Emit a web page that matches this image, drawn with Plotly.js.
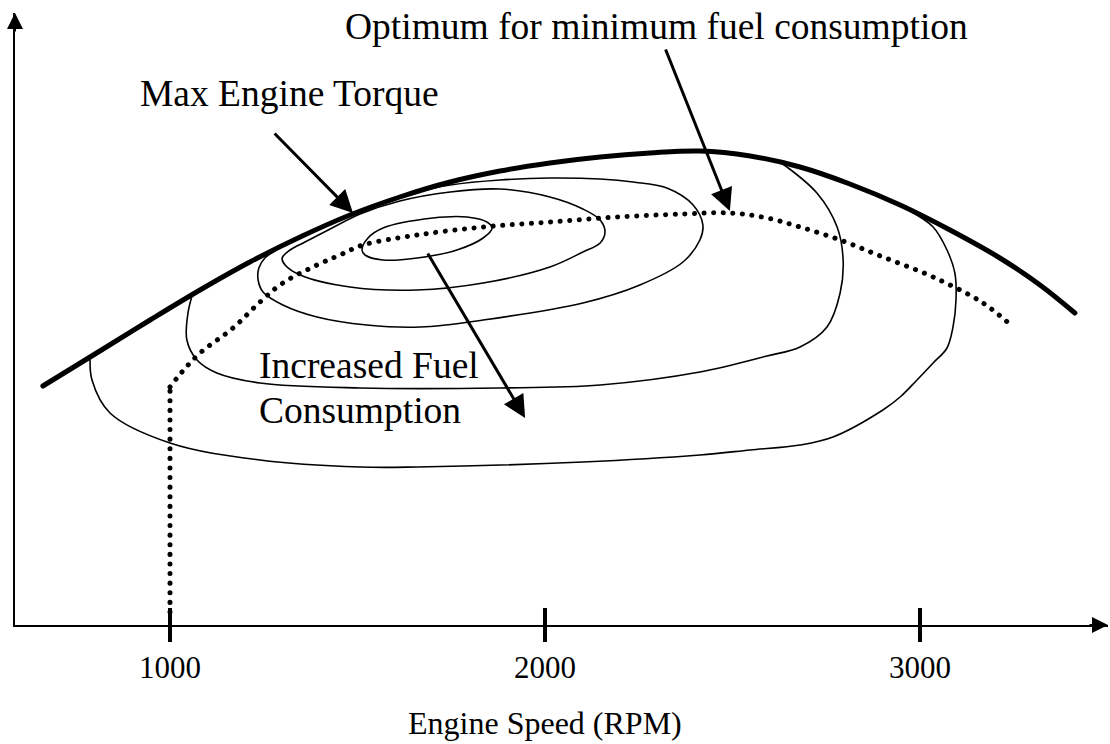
<!DOCTYPE html>
<html>
<head>
<meta charset="utf-8">
<script src="https://cdn.plot.ly/plotly-3.0.1.min.js"></script>
<style>
  html, body { margin: 0; padding: 0; background: #fff; }
  #chart { width: 1110px; height: 744px; }
  .scatterlayer .js-line { stroke-linecap: round; stroke-linejoin: round; }
</style>
</head>
<body>
<div id="chart"></div>
<script>
// ---- Data (engine speed in RPM, torque in arbitrary units) ----
const xRange = [586.67, 3501.33];
const yRange = [0, 612];
const tickVals = [1000, 2000, 3000];
const tickText = ['1000', '2000', '3000'];
const xTitle = 'Engine Speed (RPM)';

// Max engine torque curve
const maxTorqueRpm = [661, 813, 947, 1080, 1213, 1347, 1480, 1613, 1747, 1880, 2013, 2147, 2280, 2413, 2547, 2680, 2813, 2947, 3080, 3213, 3320, 3413];
const maxTorqueVal = [239, 274, 305, 335, 363, 388, 410, 428, 443, 454, 462, 468, 472, 474, 469, 458, 441, 420, 395, 367, 340, 312];

// Optimum line for minimum fuel consumption (vertical part + curve)
const optVertRpm = [1000, 1000];
const optVertVal = [13, 238];
const optCurveRpm = [1000, 1032, 1080, 1168, 1240, 1301, 1392, 1453, 1515, 1659, 1835, 2013, 2192, 2368, 2493, 2592, 2680, 2787, 2901, 3035, 3168, 3248];
const optCurveVal = [238, 253, 272, 297, 323, 342, 360, 370, 380, 390, 398, 403, 408, 411, 412, 407, 398, 385, 368, 348, 322, 298];

// Fuel consumption contours (innermost to outermost)
const c1Rpm = [1512, 1528, 1568, 1701, 1792, 1845, 1859, 1835, 1765, 1659, 1568, 1520, 1512];
const c1Val = [375, 387, 397, 407, 408, 403, 397, 387, 375, 367, 365, 370, 375];
const c2Rpm = [1299, 1320, 1360, 1427, 1507, 1613, 1747, 1880, 2013, 2101, 2147, 2160, 2147, 2101, 2013, 1835, 1659, 1480, 1347, 1307, 1299];
const c2Val = [367, 375, 383, 396, 411, 424, 433, 436, 428, 416, 405, 393, 382, 373, 358, 342, 335, 338, 350, 360, 367];
const c3Rpm = [1280, 1253, 1237, 1235, 1248, 1301, 1392, 1525, 1667, 1835, 2101, 2253, 2368, 2413, 2421, 2395, 2325, 2235, 2147, 2013, 1880, 1747, 1693];
const c3Val = [374, 367, 357, 345, 333, 320, 308, 300, 298, 305, 322, 340, 363, 385, 400, 420, 437, 443, 446, 447, 445, 440, 436];
const c4Rpm = [1061, 1048, 1045, 1072, 1125, 1240, 1507, 1880, 2147, 2413, 2592, 2680, 2752, 2787, 2795, 2779, 2725, 2627];
const c4Val = [332, 312, 285, 265, 252, 242, 237, 237, 240, 253, 269, 278, 298, 332, 365, 398, 432, 463];
const c5Rpm = [787, 792, 840, 1000, 1240, 1507, 1659, 2101, 2413, 2547, 2680, 2768, 2901, 2947, 2992, 3035, 3072, 3088, 3096, 3093, 3072, 3035, 2973];
const c5Val = [268, 245, 212, 182, 165, 158, 158, 163, 170, 175, 180, 188, 215, 228, 245, 262, 277, 298, 325, 352, 375, 398, 414];

// Label texts and their anchor points [rpm, torque]
const labelTexts = ['Optimum for minimum fuel consumption', 'Max Engine Torque', 'Increased Fuel', 'Consumption'];
const labelRpm = [1461, 915, 1232, 1232];
const labelVal = [599, 532, 260, 215];

// Pointer arrows: tip and tail [rpm, torque]
const arrowTipRpm = [1488, 2493, 1947];
const arrowTipVal = [412, 414, 207];
const arrowTailRpm = [1275, 2320, 1685];
const arrowTailVal = [493, 577, 373];

// ---- Build ----
const FONT = 'Liberation Serif, Times New Roman, serif';
const contour = (x, y) => ({ x, y, type: 'scatter', mode: 'lines', hoverinfo: 'skip',
  line: { color: '#000', width: 1.6, shape: 'spline', smoothing: 1 } });

const traces = [
  contour(c1Rpm, c1Val), contour(c2Rpm, c2Val), contour(c3Rpm, c3Val),
  contour(c4Rpm, c4Val), contour(c5Rpm, c5Val),
  { x: optVertRpm, y: optVertVal, type: 'scatter', mode: 'lines', hoverinfo: 'skip',
    line: { color: '#000', width: 5, dash: '0.1px,9.5px' } },
  { x: optCurveRpm, y: optCurveVal, type: 'scatter', mode: 'lines', hoverinfo: 'skip',
    line: { color: '#000', width: 5, dash: '0.1px,9.5px', shape: 'spline', smoothing: 1 } },
  { x: maxTorqueRpm, y: maxTorqueVal, type: 'scatter', mode: 'lines', hoverinfo: 'skip',
    line: { color: '#000', width: 5, shape: 'spline', smoothing: 1 } }
];

const annotations = [];
labelTexts.forEach((t, i) => annotations.push({
  x: labelRpm[i], y: labelVal[i], xref: 'x', yref: 'y', text: t, showarrow: false,
  xanchor: 'left', yanchor: 'middle', font: { family: FONT, size: 37.5, color: '#000' }
}));
arrowTipRpm.forEach((x, i) => annotations.push({
  x: x, y: arrowTipVal[i], xref: 'x', yref: 'y', axref: 'x', ayref: 'y',
  ax: arrowTailRpm[i], ay: arrowTailVal[i], text: '', showarrow: true,
  arrowhead: 2, arrowsize: 1.5, arrowwidth: 3, arrowcolor: '#000', standoff: 0
}));
// axis arrow heads
annotations.push({ x: xRange[1], y: yRange[0], xref: 'x', yref: 'y', ax: -20, ay: 0,
  text: '', showarrow: true, arrowhead: 2, arrowsize: 1.6, arrowwidth: 2, arrowcolor: '#000', standoff: 0 });
annotations.push({ x: xRange[0], y: yRange[1], xref: 'x', yref: 'y', ax: 0, ay: 20,
  text: '', showarrow: true, arrowhead: 2, arrowsize: 1.6, arrowwidth: 2, arrowcolor: '#000', standoff: 0 });
// x axis title, centred under the 2000 tick
annotations.push({ x: tickVals[1], y: -0.16, xref: 'x', yref: 'paper', text: xTitle, showarrow: false,
  xanchor: 'center', yanchor: 'middle', font: { family: FONT, size: 32, color: '#000' } });

const shapes = tickVals.map(v => ({
  type: 'line', xref: 'x', yref: 'paper', ysizemode: 'pixel', yanchor: 0,
  x0: v, x1: v, y0: -17, y1: 17, line: { color: '#000', width: 4 }
}));

const layout = {
  width: 1110, height: 744,
  margin: { l: 15, r: 2, t: 13, b: 119, pad: 0 },
  paper_bgcolor: '#fff', plot_bgcolor: '#fff',
  showlegend: false,
  xaxis: {
    range: xRange, showline: true, linecolor: '#000', linewidth: 2,
    tickvals: tickVals, ticktext: tickText, ticks: '', ticklabelstandoff: 14,
    tickfont: { family: FONT, size: 31, color: '#000' },
    showgrid: false, zeroline: false, automargin: false, fixedrange: true
  },
  yaxis: {
    range: yRange, showline: true, linecolor: '#000', linewidth: 2,
    showticklabels: false, ticks: '', showgrid: false, zeroline: false,
    automargin: false, fixedrange: true
  },
  annotations: annotations,
  shapes: shapes
};

Plotly.newPlot('chart', traces, layout, { displayModeBar: false, staticPlot: true });
</script>
</body>
</html>
